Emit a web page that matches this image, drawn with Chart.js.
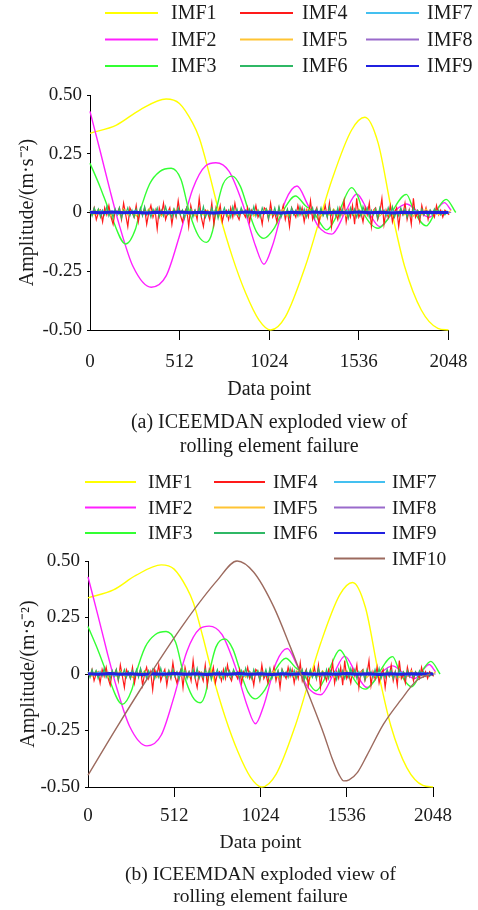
<!DOCTYPE html>
<html>
<head>
<meta charset="utf-8">
<script src="https://cdn.jsdelivr.net/npm/chart.js@4/dist/chart.umd.min.js"></script>
<style>
  html, body { margin: 0; padding: 0; background: #fff; }
  #wrapA { position: absolute; left: 0; top: 0; width: 478px; height: 460px; }
  #wrapB { position: absolute; left: 0; top: 455px; width: 478px; height: 455px; }
</style>
</head>
<body>
<div id="wrapA"><canvas id="chartA" width="478" height="460"></canvas></div>
<div id="wrapB"><canvas id="chartB" width="478" height="455"></canvas></div>
<script>
// ---- data ----
var seriesNames = ["IMF1", "IMF2", "IMF3", "IMF4", "IMF5", "IMF6", "IMF7", "IMF8", "IMF9", "IMF10"];
var seriesColors = ["#ffff00", "#ff20ff", "#33ff33", "#ff1a1a", "#ffc433", "#2fb865", "#44c0f0", "#9a6acb", "#2020e0", "#9c6a5e"];

var xTicks = [0, 512, 1024, 1536, 2048];
var yTicks = [-0.5, -0.25, 0, 0.25, 0.5];
var yTickLabels = ["-0.50", "-0.25", "0", "0.25", "0.50"];

// smooth components: sample index / amplitude
var imf1X = [0, 151, 284, 435, 511, 587, 625, 681, 738, 814, 890, 965, 1032, 1117, 1230, 1306, 1382, 1495, 1571, 1647, 1723, 1798, 1893, 1988, 2048];
var imf1Y = [0.337, 0.372, 0.436, 0.483, 0.464, 0.38, 0.316, 0.167, 0, -0.19, -0.344, -0.457, -0.5, -0.443, -0.23, -0.046, 0.138, 0.351, 0.405, 0.294, 0.01, -0.23, -0.415, -0.493, -0.5];

var imf2X = [0, 57, 114, 170, 246, 350, 435, 511, 587, 663, 719, 795, 871, 947, 994, 1041, 1117, 1183, 1240, 1306, 1382, 1458, 1524, 1590, 1656, 1732, 1808, 1874, 1940, 2025, 2063];
var imf2Y = [0.43, 0.265, 0.095, -0.06, -0.23, -0.318, -0.27, -0.1, 0.1, 0.2, 0.212, 0.175, 0.04, -0.145, -0.22, -0.145, 0.05, 0.113, 0.04, -0.06, -0.092, 0, 0.079, 0.004, -0.06, 0, 0.036, 0.004, -0.02, 0.042, 0.01];

var imf3X = [0, 57, 114, 204, 260, 284, 340, 400, 464, 520, 568, 620, 666, 700, 719, 760, 814, 860, 909, 950, 994, 1050, 1098, 1174, 1230, 1278, 1353, 1420, 1495, 1530, 1562, 1647, 1700, 1723, 1808, 1855, 1921, 1980, 2035, 2090];
var imf3Y = [0.21, 0.11, 0, -0.134, -0.07, 0, 0.12, 0.175, 0.188, 0.14, 0, -0.1, -0.127, -0.08, 0, 0.12, 0.155, 0.11, 0, -0.08, -0.11, -0.07, 0, 0.07, 0.03, 0, -0.074, 0, 0.106, 0.07, 0, -0.067, -0.03, 0, 0.077, 0, -0.057, 0.01, 0.056, 0];

var imf10X = [0, 172, 370, 568, 766, 885, 984, 1102, 1201, 1300, 1399, 1450, 1490, 1518, 1550, 1600, 1656, 1755, 1854, 1953, 2032];
var imf10Y = [-0.448, -0.235, 0, 0.221, 0.413, 0.5, 0.45, 0.298, 0.12, -0.072, -0.264, -0.375, -0.445, -0.473, -0.468, -0.435, -0.36, -0.221, -0.118, -0.028, 0];

// high-frequency components, one value every <step> samples
var imf4Step = 12;
var imf4 = [
  0, -0.01, 0.02, -0.03, 0, 0.01, -0.04, 0.02, -0.01, 0.03, -0.02, -0.05, 0.01, 0, 0.02, -0.03, 0.04, -0.01, -0.06, 0.02, 0, -0.02, 0.03, -0.04, 0.01,
  -0.01, 0.02, -0.05, 0, 0.03, -0.02, 0.01, -0.07, 0.02, -0.01, 0.04, -0.03, 0, 0.02, -0.05, 0.01, -0.02, 0.05, -0.01, -0.04, 0, 0.02, -0.06, 0.03, -0.01,
  0.01, -0.03, 0.06, -0.02, -0.06, 0.01, 0, -0.03, 0.04, -0.05, 0.02, -0.01, 0.03, -0.04, 0, 0.01, -0.03, 0.02, -0.02, 0.04, -0.01, -0.03, 0.01, 0, -0.02,
  0.02, -0.04, 0.01, -0.01, 0.03, -0.02, 0, -0.05, 0.02, 0.01, -0.03, 0.04, -0.02, 0, -0.04, 0.02, -0.01, 0.03, -0.03, 0.01, -0.06, 0.02, 0, -0.02, 0.03,
  -0.01, 0.02, -0.04, 0.01, -0.02, 0.05, -0.03, 0, 0.02, -0.05, 0.01, -0.01, 0.03, -0.02, 0.04, -0.06, 0.01, 0, -0.03, 0.02, -0.01, 0.05, -0.04, 0.01, -0.02,
  0.03, -0.05, 0.06, -0.02, 0, -0.04, 0.02, -0.01, 0.04, -0.06, 0.01, 0.02, -0.03, 0, 0.06, -0.05, 0.01, -0.02, 0.03, -0.04, 0, 0.02, -0.06, 0.01, -0.01,
  0.04, -0.03, 0.01, -0.05, 0.06, -0.02, 0, -0.04, 0.03, -0.01, 0.02, -0.03, 0.01, 0, -0.02, 0.03, -0.01, 0.01, -0.02, 0.01, 0, -0.01, 0.01, 0, 0];

var imf5Step = 24;
var imf5 = [0.01, -0.01, 0.015, -0.005, 0.01, -0.015, 0.005, -0.01, 0.015, -0.01, 0.005, -0.015, 0.01, -0.005, 0.015, -0.01, 0.01, -0.015, 0.005, -0.01, 0.015, -0.005, 0.01, -0.01, 0.015, -0.015, 0.005, -0.01, 0.01, -0.005, 0.015, -0.01, 0.005, -0.015, 0.01, -0.01, 0.015, -0.005, 0.01, -0.015, 0.01, -0.005, 0.015, -0.01, 0.005, -0.01, 0.015, -0.015, 0.01, -0.005, 0.01, -0.01, 0.015, -0.005, 0.005, -0.015, 0.01, -0.01, 0.015, -0.005, 0.01, -0.015, 0.005, -0.01, 0.015, -0.01, 0.01, -0.005, 0.015, -0.015, 0.005, -0.01, 0.01, -0.005, 0.015, -0.01, 0.005, -0.015, 0.01, -0.01, 0.015, -0.005, 0.01, -0.01, 0.005, -0.005, 0.01, 0];

var imf6Step = 12;
var imf6 = [
  0.01, -0.015, 0.02, -0.005, 0.015, -0.02, 0.01, -0.01, 0.025, -0.015, 0.005, -0.02, 0.015, -0.01, 0.02, -0.025, 0.01, -0.005, 0.02, -0.015, 0.01, -0.02, 0.015, -0.01, 0.02,
  -0.015, 0.025, -0.01, 0.01, -0.02, 0.015, -0.005, 0.02, -0.02, 0.01, -0.015, 0.025, -0.01, 0.005, -0.02, 0.015, -0.015, 0.02, -0.01, 0.01, -0.025, 0.02, -0.005, 0.015, -0.02,
  0.01, -0.01, 0.02, -0.015, 0.025, -0.02, 0.005, -0.015, 0.02, -0.01, 0.015, -0.025, 0.01, -0.005, 0.02, -0.015, 0.01, -0.02, 0.025, -0.01, 0.015, -0.015, 0.02, -0.005, 0.01,
  -0.02, 0.015, -0.01, 0.025, -0.015, 0.01, -0.02, 0.02, -0.005, 0.015, -0.025, 0.01, -0.01, 0.02, -0.015, 0.025, -0.02, 0.005, -0.01, 0.015, -0.02, 0.02, -0.01, 0.01, -0.015,
  0.025, -0.01, 0.015, -0.02, 0.01, -0.005, 0.02, -0.025, 0.015, -0.01, 0.02, -0.015, 0.005, -0.02, 0.025, -0.01, 0.01, -0.015, 0.02, -0.02, 0.015, -0.005, 0.01, -0.025, 0.02,
  -0.01, 0.015, -0.02, 0.01, -0.015, 0.025, -0.005, 0.02, -0.02, 0.01, -0.01, 0.015, -0.025, 0.02, -0.005, 0.01, -0.015, 0.02, -0.01, 0.025, -0.02, 0.005, -0.015, 0.02, -0.01,
  0.015, -0.02, 0.01, -0.015, 0.02, -0.005, 0.01, -0.02, 0.015, -0.01, 0.005, -0.015, 0.01, -0.01, 0.015, -0.005, 0.01, -0.01, 0.005, -0.01, 0.005, -0.005, 0.005, 0, 0];

var imf7Step = 32;
var imf7 = [0.005, -0.005, 0.008, -0.004, 0.006, -0.008, 0.004, -0.006, 0.008, -0.005, 0.004, -0.007, 0.006, -0.004, 0.008, -0.006, 0.005, -0.008, 0.004, -0.005, 0.007, -0.006, 0.005, -0.004, 0.008, -0.007, 0.004, -0.005, 0.006, -0.008, 0.005, -0.004, 0.007, -0.006, 0.004, -0.007, 0.008, -0.005, 0.006, -0.004, 0.005, -0.008, 0.007, -0.005, 0.004, -0.006, 0.008, -0.004, 0.005, -0.007, 0.006, -0.005, 0.004, -0.008, 0.007, -0.004, 0.005, -0.006, 0.008, -0.005, 0.004, -0.007, 0.006, -0.004, 0.003, 0];

var imf8Step = 48;
var imf8 = [0.003, -0.002, 0.004, -0.003, 0.002, -0.004, 0.003, -0.002, 0.004, -0.003, 0.002, -0.003, 0.004, -0.002, 0.003, -0.004, 0.002, -0.003, 0.004, -0.002, 0.003, -0.003, 0.002, -0.004, 0.003, -0.002, 0.004, -0.003, 0.002, -0.004, 0.003, -0.002, 0.003, -0.003, 0.004, -0.002, 0.002, -0.003, 0.003, -0.002, 0.002, -0.002, 0.001, 0];

var imf9Step = 64;
var imf9 = [0.001, -0.001, 0.002, -0.001, 0.001, -0.002, 0.001, -0.001, 0.002, -0.001, 0.001, -0.002, 0.001, -0.001, 0.002, -0.001, 0.001, -0.002, 0.001, -0.001, 0.002, -0.001, 0.001, -0.001, 0.002, -0.001, 0.001, -0.002, 0.001, -0.001, 0.001, 0, 0];

var serif = "'Liberation Serif', 'Times New Roman', serif";

function pairUp(xs, ys) {
    var pts = [];
    for (var k = 0; k < ys.length; k++) {
        pts.push({x: xs[k], y: ys[k]});
    }
    return pts;
}

function stepped(step, ys) {
    var pts = [];
    for (var k = 0; k < ys.length; k++) {
        pts.push({x: k * step, y: ys[k]});
    }
    return pts;
}

function makeDatasets(withTrend) {
    var pts = [
        pairUp(imf1X, imf1Y), pairUp(imf2X, imf2Y), pairUp(imf3X, imf3Y),
        stepped(imf4Step, imf4), stepped(imf5Step, imf5), stepped(imf6Step, imf6),
        stepped(imf7Step, imf7), stepped(imf8Step, imf8), stepped(imf9Step, imf9)
    ];
    if (withTrend) pts.push(pairUp(imf10X, imf10Y));
    var sets = [];
    for (var k = 0; k < pts.length; k++) {
        var smooth = (k < 3 || k == 9);
        sets.push({
            label: seriesNames[k],
            data: pts[k],
            borderColor: seriesColors[k],
            borderWidth: k == 8 ? 3 : (smooth ? 1.4 : 1.2),
            pointRadius: 0,
            fill: false,
            clip: false,
            order: 10 - k,
            cubicInterpolationMode: smooth ? "monotone" : "default",
            tension: smooth ? 0.4 : 0
        });
    }
    return sets;
}

// legend drawn as a 3-column grid like the figure
var gridLegend = {
    id: "gridLegend",
    afterDraw: function(chart, args, o) {
        var ctx = chart.ctx;
        ctx.save();
        ctx.font = o.fontSize + "px " + serif;
        ctx.textBaseline = "middle";
        ctx.textAlign = "left";
        chart.data.datasets.forEach(function(ds, k) {
            var col = Math.min(Math.floor(k / 3), 2);
            var row = k - col * 3;
            var y = o.top + row * o.gap;
            ctx.strokeStyle = ds.borderColor;
            ctx.lineWidth = 2;
            ctx.beginPath();
            ctx.moveTo(o.cols[col][0], y);
            ctx.lineTo(o.cols[col][0] + o.lineLen, y);
            ctx.stroke();
            ctx.fillStyle = "#1a1a1a";
            ctx.fillText(ds.label, o.cols[col][1], y + 1);
        });
        ctx.restore();
    }
};

function makeChart(id, withTrend, g) {
    return new Chart(document.getElementById(id), {
        type: "line",
        data: { datasets: makeDatasets(withTrend) },
        plugins: [gridLegend],
        options: {
            responsive: false,
            animation: false,
            devicePixelRatio: 1,
            events: [],
            layout: { padding: g.pad },
            plugins: {
                legend: { display: false },
                tooltip: { enabled: false },
                title: {
                    display: true,
                    position: "bottom",
                    fullSize: false,
                    text: g.caption,
                    color: "#1a1a1a",
                    font: { family: serif, size: g.capSize, weight: "normal", lineHeight: g.capLH },
                    padding: { top: 4, bottom: 0 }
                },
                gridLegend: g.legend
            },
            scales: {
                x: {
                    type: "linear",
                    min: 0, max: 2048,
                    afterBuildTicks: function(s) { s.ticks = xTicks.map(function(v) { return {value: v}; }); },
                    afterFit: function(s) { s.height = g.xH; },
                    ticks: { autoSkip: false, maxRotation: 0, padding: g.xTickPad, color: "#1a1a1a",
                             font: { family: serif, size: 19 },
                             callback: function(v) { return String(v); } },
                    grid: { drawOnChartArea: false, drawTicks: true, tickLength: 10,
                            color: function(c) { return c.index === 0 ? "rgba(0,0,0,0)" : "#000"; } },
                    border: { display: true, color: "#000", width: 1 },
                    title: { display: true, text: "Data point", color: "#1a1a1a",
                             font: { family: serif, size: g.xTitleSize }, padding: { top: 0, bottom: g.xTitlePad } }
                },
                y: {
                    type: "linear",
                    min: -0.5, max: 0.5,
                    afterBuildTicks: function(s) { s.ticks = yTicks.map(function(v) { return {value: v}; }); },
                    afterFit: function(s) { s.width = g.yW; },
                    ticks: { padding: 5, color: "#1a1a1a", font: { family: serif, size: 19 },
                             callback: function(v) { return yTickLabels[yTicks.indexOf(v)]; } },
                    grid: { drawOnChartArea: false, drawTicks: true, tickLength: 3, color: "#000" },
                    border: { display: true, color: "#000", width: 1 },
                    title: { display: true, text: "Amplitude/(m\u00b7s\u207b\u00b2)", color: "#1a1a1a",
                             font: { family: serif, size: 20 }, padding: { top: g.yTitlePad, bottom: 0 } }
                }
            }
        }
    });
}

makeChart("chartA", false, {
    pad: { top: 95, right: 27, bottom: 1, left: 0 },
    yW: 90, xH: 77, xTickPad: 10.6, xTitleSize: 20, xTitlePad: 5, yTitlePad: 16,
    caption: ["(a) ICEEMDAN exploded view of", "rolling element failure"],
    capSize: 20, capLH: 1.2,
    legend: { top: 13, gap: 26.5, lineLen: 53, fontSize: 20, cols: [[105, 171], [240, 302], [366, 427]] }
});

makeChart("chartB", true, {
    pad: { top: 106, right: 45, bottom: 2, left: 0 },
    yW: 88, xH: 73, xTickPad: 7.6, xTitleSize: 19.5, xTitlePad: 5.3, yTitlePad: 17,
    caption: ["(b) ICEEMDAN exploded view of", "rolling element failure"],
    capSize: 19.5, capLH: 1.128,
    legend: { top: 27, gap: 25.5, lineLen: 51, fontSize: 19.5, cols: [[85, 148], [214, 273], [334, 392]] }
});
</script>
</body>
</html>
